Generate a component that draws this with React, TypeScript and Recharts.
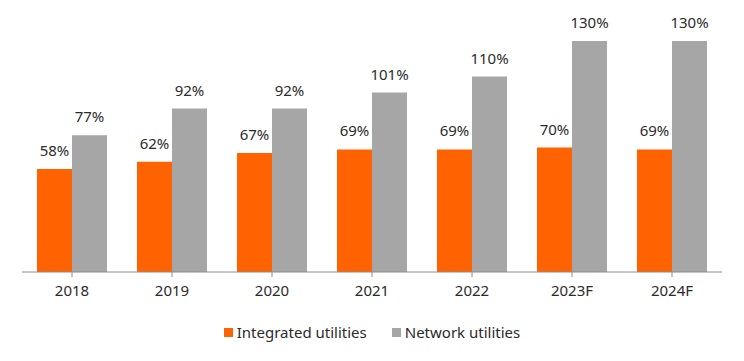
import { BarChart, Bar, XAxis, YAxis, Legend, LabelList } from 'recharts';

const years = ['2018', '2019', '2020', '2021', '2022', '2023F', '2024F'];
const integrated = [58, 62, 67, 69, 69, 70, 69];
const network = [77, 92, 92, 101, 110, 130, 130];

const data = years.map((year, i) => ({
    year,
    integrated: integrated[i],
    network: network[i],
}));

const FONT = '"Noto Sans", sans-serif';
const TEXT = '#2b2b2b';

const pct = (v: any) => `${v}%`;

const LegendContent = (props: any) => {
    const { payload } = props;
    return (
        <div style={{ display: 'flex', justifyContent: 'center', fontFamily: FONT, fontSize: 15, color: TEXT }}>
            {payload.map((entry: any, i: number) => (
                <div key={entry.value} style={{ display: 'flex', alignItems: 'center', marginRight: i === 0 ? 25 : 0 }}>
                    <span style={{ display: 'inline-block', width: 9, height: 9, background: entry.color, marginRight: 4 }} />
                    <span>{entry.value}</span>
                </div>
            ))}
        </div>
    );
};

export default function App() {
    return (
        <div style={{ width: 736, height: 353 }}>
            <BarChart
                width={736}
                height={353}
                data={data}
                margin={{ top: 33, right: 22, bottom: 15, left: 14 }}
                barCategoryGap={'15%'}
                barGap={0}
            >
                <XAxis
                    dataKey={'year'}
                    height={50}
                    tickSize={5}
                    tickMargin={8}
                    axisLine={{ stroke: '#8c8c8c' }}
                    tickLine={{ stroke: '#8c8c8c' }}
                    tick={{ fill: TEXT, fontSize: 15, fontFamily: FONT }}
                    interval={0}
                />
                <YAxis hide domain={[0, 130]} />
                <Legend verticalAlign={'bottom'} height={24} content={<LegendContent />} />
                <Bar dataKey={'integrated'} name={'Integrated utilities'} fill='#FF6200' isAnimationActive={false}>
                    <LabelList dataKey={'integrated'} position={'top'} offset={13} formatter={pct}
                        style={{ fill: TEXT, fontSize: 15, fontFamily: FONT }} />
                </Bar>
                <Bar dataKey={'network'} name={'Network utilities'} fill='#A6A6A6' isAnimationActive={false}>
                    <LabelList dataKey={'network'} position={'top'} offset={13} formatter={pct}
                        style={{ fill: TEXT, fontSize: 15, fontFamily: FONT }} />
                </Bar>
            </BarChart>
        </div>
    );
}
